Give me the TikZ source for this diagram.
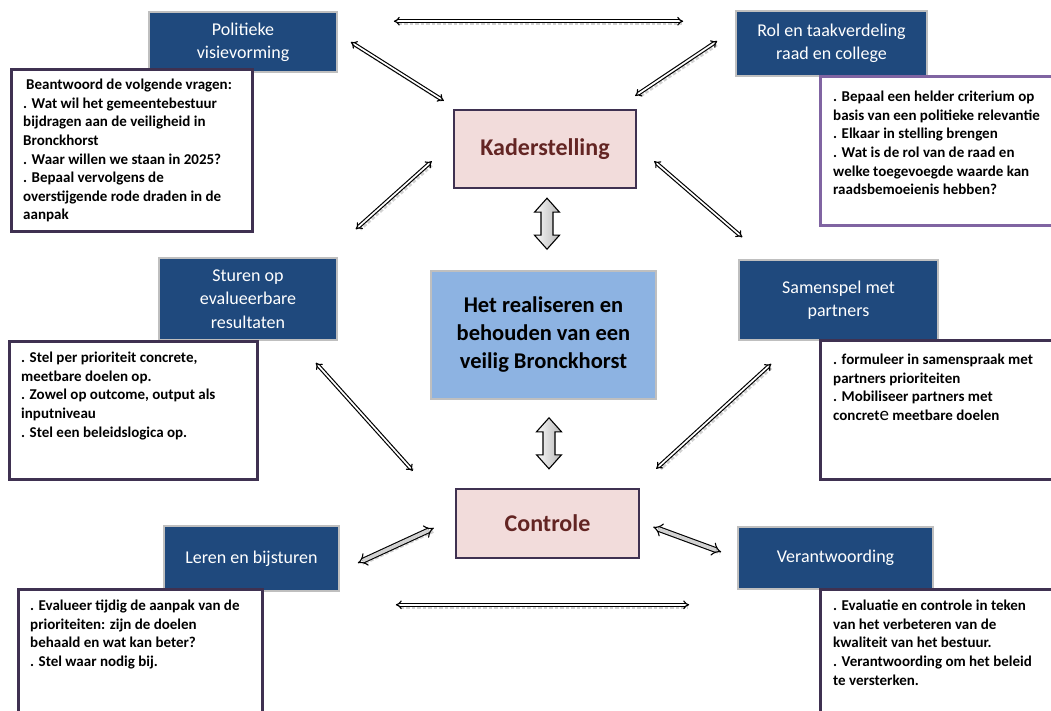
\documentclass[tikz,border=0pt]{standalone}
\usepackage{fontspec}
\setmainfont{Carlito}
\usetikzlibrary{calc,arrows.meta}
\definecolor{bluebox}{HTML}{1F497D}
\definecolor{bluegray}{HTML}{BFBFBF}
\definecolor{goalfill}{HTML}{8DB3E2}
\definecolor{kadfill}{HTML}{F2DCDB}
\definecolor{kadtext}{HTML}{632523}
\definecolor{darkpurple}{HTML}{3F3151}
\definecolor{lightpurple}{HTML}{8064A2}
\newcommand{\blkarrow}[2]{%
  \path[blockarrow] let \p1=(#1), \p2=(#2) in
    (\x1,\y1) -- (\x1+12.5pt,\y1-14pt) -- (\x1+6pt,\y1-14pt) -- (\x1+6pt,\y2+14pt)
    -- (\x1+12.5pt,\y2+14pt) -- (\x1,\y2) -- (\x1-12.5pt,\y2+14pt) -- (\x1-6pt,\y2+14pt)
    -- (\x1-6pt,\y1-14pt) -- (\x1-12.5pt,\y1-14pt) -- cycle;}
\begin{document}
\begin{tikzpicture}[x=1pt,y=-1pt,
  bluebx/.style={draw=bluegray,line width=1.6pt,fill=bluebox,text=white,align=center,
    font=\fontsize{18}{23.3}\selectfont,inner sep=0pt},
  infobox/.style={draw=darkpurple,line width=2.6pt,fill=white,anchor=north west,inner sep=0pt},
  infotext/.style={anchor=north west,align=left,inner sep=0pt,
    font=\fontsize{15}{18.6}\selectfont\bfseries},
  keybox/.style={draw=darkpurple,line width=2.4pt,fill=kadfill,text=kadtext,
    font=\fontsize{24}{29}\selectfont\bfseries,inner sep=0pt},
  goalbox/.style={draw=bluegray,line width=1.6pt,fill=goalfill,align=center,
    font=\fontsize{22.5}{28}\selectfont\bfseries,inner sep=0pt},
  dar/.style={double=white,double distance=1.7pt,line width=1.15pt,draw=black,{Implies}-{Implies}},
  gar/.style={double=gray!35,double distance=3.6pt,line width=1.1pt,draw=black,{Implies}-{Implies}},
  arrshadow/.style={draw=gray!35,line width=3.5pt,dotted,transform canvas={shift={(2,2)}},shorten >=3pt,shorten <=3pt},
  blockarrow/.style={draw=black,line width=1.1pt,left color=gray!5,right color=gray!55}
]
\clip (0,0) rectangle (1051,711);
\fill[white] (0,0) rectangle (1051,711);

% blue boxes
\node[bluebx,minimum width=188pt,minimum height=60pt] (pol) at (243,42) {Politieke\\visievorming};
\node[bluebx,minimum width=191pt,minimum height=65pt] (rol) at (831.5,43.5) {Rol en taakverdeling\\raad en college};
\node[bluebx,minimum width=178pt,minimum height=82pt] (stu) at (248,299) {Sturen op\\evalueerbare\\resultaten};
\node[bluebx,minimum width=199pt,minimum height=80pt] (sam) at (838.5,300) {Samenspel met\\partners};
\node[bluebx,minimum width=175pt,minimum height=65pt] (ler) at (251.5,558.5) {Leren en bijsturen};
\node[bluebx,minimum width=195pt,minimum height=62pt] (ver) at (835.5,558) {Verantwoording};

% info boxes
\node[infobox,minimum width=241pt,minimum height=162pt] (t1) at (10,68) {};
\node[infobox,draw=lightpurple,minimum width=270pt,minimum height=149pt] (t2) at (819,75) {};
\node[infobox,minimum width=248pt,minimum height=138pt] (t3) at (8,340) {};
\node[infobox,minimum width=270pt,minimum height=139pt] (t4) at (819,339) {};
\node[infobox,minimum width=244pt,minimum height=140pt] (t5) at (17,588) {};
\node[infobox,minimum width=270pt,minimum height=140pt] (t6) at (819,588) {};

\node[infotext] (x1) at ([shift={(13,11)}]t1.north west) {\hspace{3pt}Beantwoord de volgende vragen:\\. Wat wil het gemeentebestuur\\bijdragen aan de veiligheid in\\Bronckhorst\\. Waar willen we staan in 2025?\\. Bepaal vervolgens de\\overstijgende rode draden in de\\aanpak};
\node[infotext] (x2) at ([shift={(14,16)}]t2.north west) {. Bepaal een helder criterium op\\basis van een politieke relevantie\\. Elkaar in stelling brengen\\. Wat is de rol van de raad en\\welke toegevoegde waarde kan\\raadsbemoeienis hebben?};
\node[infotext] (x3) at ([shift={(13,12)}]t3.north west) {. Stel per prioriteit concrete,\\meetbare doelen op.\\. Zowel op outcome, output als\\inputniveau\\. Stel een beleidslogica op.};
\node[infotext] (x4) at ([shift={(14,15)}]t4.north west) {. formuleer in samenspraak met\\partners prioriteiten\\. Mobiliseer partners met\\concret{\fontsize{19}{18}\selectfont\mdseries e} meetbare doelen};
\node[infotext] (x5) at ([shift={(13,12)}]t5.north west) {. Evalueer tijdig de aanpak van de\\prioriteiten: zijn de doelen\\behaald en wat kan beter?\\. Stel waar nodig bij.};
\node[infotext] (x6) at ([shift={(14,12)}]t6.north west) {. Evaluatie en controle in teken\\van het verbeteren van de\\kwaliteit van het bestuur.\\. Verantwoording om het beleid\\te versterken.};

% central boxes
\node[keybox,minimum width=182pt,minimum height=78pt] (kad) at (545,149) {Kaderstelling};
\node[goalbox,minimum width=225pt,minimum height=128pt] (goal) at (543.5,335) {Het realiseren en\\behouden van een\\veilig Bronckhorst};
\node[keybox,minimum width=183pt,minimum height=69pt] (con) at (547.5,523.5) {Controle};

% arrow end coordinates
\coordinate (a1s) at ([shift={(56,10)}]pol.north east);
\coordinate (a1e) at ([shift={(-52,11)}]rol.north west);
\coordinate (a2s) at ([shift={(13,0)}]pol.east);
\coordinate (a2e) at ([shift={(-9,-8)}]kad.north west);
\coordinate (a3s) at ([shift={(-18,-2.5)}]rol.west);
\coordinate (a3e) at ([shift={(-2,-13)}]kad.north east);
\coordinate (a4s) at ([shift={(-21,-28)}]kad.south west);
\coordinate (a4e) at ([shift={(18,-28)}]stu.north east);
\coordinate (a5s) at ([shift={(17,-28)}]kad.south east);
\coordinate (a5e) at ([shift={(4,-22)}]sam.north west);
\coordinate (a6s) at ([shift={(-22,22)}]stu.south east);
\coordinate (a6e) at ([shift={(-42,-17)}]con.north west);
\coordinate (a7s) at ([shift={(33,23)}]sam.south west);
\coordinate (a7e) at ([shift={(16,-19)}]con.north east);
\coordinate (a8s) at ([shift={(-21,4.5)}]con.west);
\coordinate (a8e) at ([shift={(18,4.5)}]ler.east);
\coordinate (a9s) at ([shift={(13,3.5)}]con.east);
\coordinate (a9e) at ([shift={(-16,-6)}]ver.west);
\coordinate (a10s) at ([shift={(56,13)}]ler.south east);
\coordinate (a10e) at ([shift={(-48,15)}]ver.south west);
\coordinate (b1s) at ([shift={(2,9)}]kad.south);
\coordinate (b1e) at ([shift={(3.5,-21)}]goal.north);
\coordinate (b2s) at ([shift={(5.5,18)}]goal.south);
\coordinate (b2e) at ([shift={(1.5,-19)}]con.north);

% shadows
\foreach \s/\e in {a1s/a1e,a2s/a2e,a3s/a3e,a4s/a4e,a5s/a5e,a6s/a6e,a7s/a7e,a8s/a8e,a9s/a9e,a10s/a10e}
  \draw[arrshadow] (\s) -- (\e);

% double-line arrows
\draw[dar] (a1s) -- (a1e);
\draw[dar] (a2s) -- (a2e);
\draw[dar] (a3s) -- (a3e);
\draw[dar] (a4s) -- (a4e);
\draw[dar] (a5s) -- (a5e);
\draw[dar] (a6s) -- (a6e);
\draw[dar] (a7s) -- (a7e);
\draw[gar] (a8s) -- (a8e);
\draw[gar] (a9s) -- (a9e);
\draw[dar] (a10s) -- (a10e);

% block arrows
\blkarrow{b1s}{b1e}
\blkarrow{b2s}{b2e}
\end{tikzpicture}
\end{document}
